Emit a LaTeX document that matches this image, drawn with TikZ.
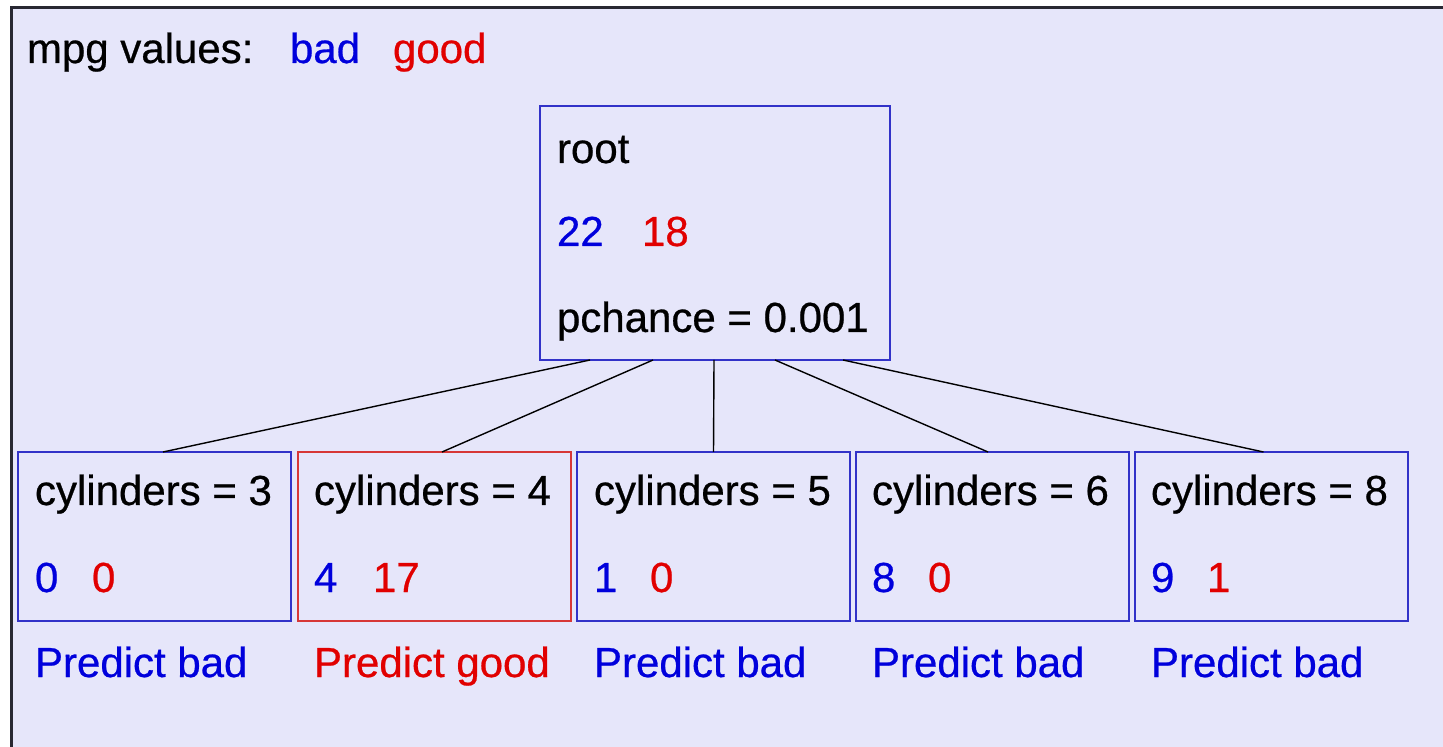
\documentclass[tikz,border=0pt]{standalone}
\usepackage{fontspec}
\setmainfont[FakeBold=0.6,BoldFont={Liberation Sans}]{Liberation Sans}
\definecolor{bg}{RGB}{230,230,250}
\definecolor{tblue}{RGB}{0,0,220}
\definecolor{tred}{RGB}{225,0,0}
\definecolor{bblue}{RGB}{50,50,200}
\definecolor{bred}{RGB}{215,55,55}
\definecolor{frame}{RGB}{40,40,50}
\begin{document}
\begin{tikzpicture}[x=0.5pt,y=-0.5pt,
  txt/.style={inner sep=0pt,outer sep=0pt,anchor=base west,font=\fontsize{21}{25}\selectfont},
  rootbox/.style={draw=bblue,line width=1pt,minimum width=175pt,minimum height=127pt,inner sep=0pt,outer sep=0pt},
  leafbox/.style={draw=bblue,line width=1pt,minimum width=136.5pt,minimum height=84.5pt,inner sep=0pt,outer sep=0pt},
  goodbox/.style={leafbox,draw=bred},
  edge/.style={draw=black,line width=0.7pt}]
\useasboundingbox (0,0) rectangle (1443,747);
\clip (0,0) rectangle (1443,747);
\fill[white] (0,0) rectangle (1443,747);
\fill[bg] (11,8) rectangle (1460,760);
\draw[frame,line width=1.5pt] (11,770) -- (11,8) -- (1460,8);

% legend
\node[txt] (legend) at (27,63) {mpg values:};
\node[txt,text=tblue] (legbad) at (290,63) {bad};
\node[txt,text=tred] (leggood) at (393,63) {good};

% root
\node[rootbox] (root) at (715,233) {};
\node[txt] (rootlbl) at (557,163) {root};
\node[txt,text=tblue] (rootb) at (557,246) {22};
\node[txt,text=tred] (rootg) at (642,246) {18};
\node[txt] (rootp) at (557,332) {pchance = 0.001};

% leaves
\node[leafbox] (c3) at (154.5,536.5) {};
\node[goodbox] (c4) at (434,536.5) {};
\node[leafbox] (c5) at (713.5,536.5) {};
\node[leafbox] (c6) at (992,536.5) {};
\node[leafbox] (c8) at (1271.5,536.5) {};

\node[txt] (t3) at (35,505) {cylinders = 3};
\node[txt,text=tblue] (b3) at (35,592) {0};
\node[txt,text=tred] (g3) at (92,592) {0};
\node[txt,text=tblue] (p3) at (35,677) {Predict bad};

\node[txt] (t4) at (314,505) {cylinders = 4};
\node[txt,text=tblue] (b4) at (314,592) {4};
\node[txt,text=tred] (g4) at (373,592) {17};
\node[txt,text=tred] (p4) at (314,677) {Predict good};

\node[txt] (t5) at (594,505) {cylinders = 5};
\node[txt,text=tblue] (b5) at (594,592) {1};
\node[txt,text=tred] (g5) at (650,592) {0};
\node[txt,text=tblue] (p5) at (594,677) {Predict bad};

\node[txt] (t6) at (872,505) {cylinders = 6};
\node[txt,text=tblue] (b6) at (872,592) {8};
\node[txt,text=tred] (g6) at (928,592) {0};
\node[txt,text=tblue] (p6) at (872,677) {Predict bad};

\node[txt] (t8) at (1151,505) {cylinders = 8};
\node[txt,text=tblue] (b8) at (1151,592) {9};
\node[txt,text=tred] (g8) at (1207,592) {1};
\node[txt,text=tblue] (p8) at (1151,677) {Predict bad};

% connectors
\draw[edge] ([xshift=-62.5pt]root.south) -- ([xshift=4.25pt]c3.north);
\draw[edge] ([xshift=-31pt]root.south) -- ([xshift=4pt]c4.north);
\draw[edge] ([xshift=-0.5pt]root.south) -- (c5.north);
\draw[edge] ([xshift=30pt]root.south) -- ([xshift=-2pt]c6.north);
\draw[edge] ([xshift=64pt]root.south) -- ([xshift=-4pt]c8.north);
\end{tikzpicture}
\end{document}
